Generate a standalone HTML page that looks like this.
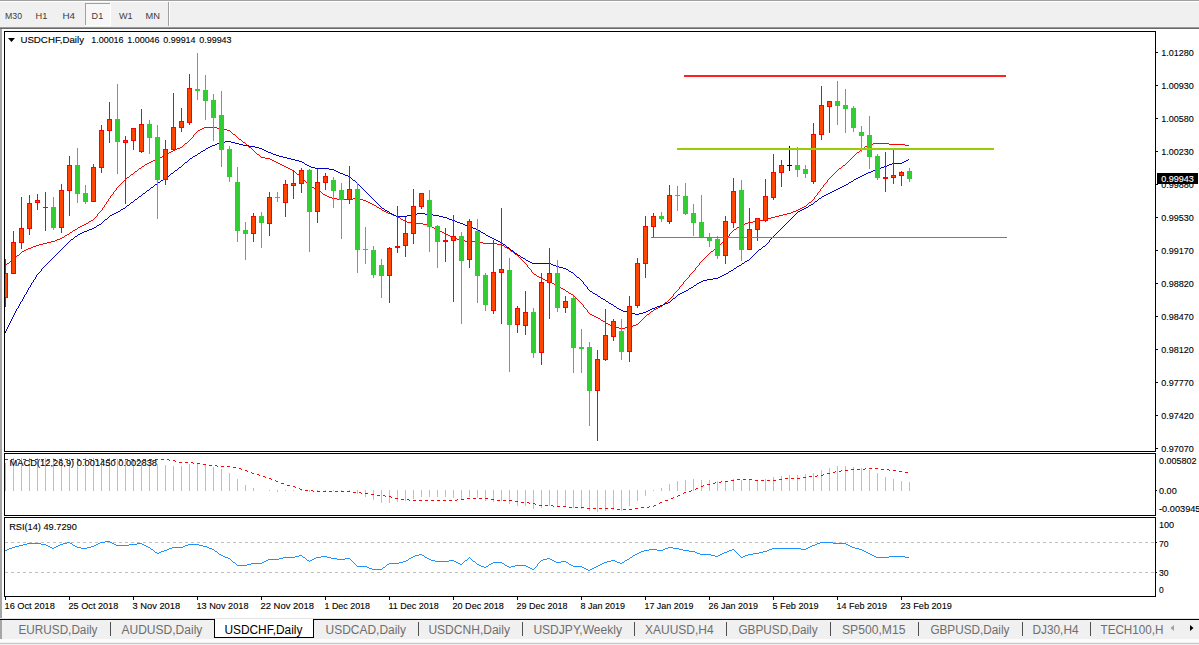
<!DOCTYPE html>
<html><head><meta charset="utf-8"><title>USDCHF,Daily</title>
<style>
html,body{margin:0;padding:0;background:#fff;overflow:hidden}
svg{display:block;position:absolute;left:0;top:0;font-family:"Liberation Sans",sans-serif}
text{white-space:pre}
</style></head><body>
<svg width="1199" height="645" viewBox="0 0 1199 645">
<rect x="0" y="0" width="1199" height="645" fill="#ffffff"/>
<rect x="0" y="0" width="1199" height="27" fill="#f0f0f0"/>
<rect x="0" y="0" width="1199" height="1" fill="#a0a0a0"/>
<rect x="0" y="1" width="1199" height="1" fill="#ffffff"/>
<rect x="0" y="27" width="1199" height="1" fill="#989898"/>
<rect x="0" y="28" width="1199" height="1" fill="#696969"/>
<rect x="85" y="3" width="26" height="23" fill="#ffffff"/>
<rect x="85" y="3" width="25" height="22" fill="#a0a0a0"/>
<rect x="86" y="4" width="24" height="21" fill="#f7f7f7"/>
<rect x="168" y="2" width="1" height="24" fill="#a0a0a0"/>
<rect x="169" y="2" width="1" height="24" fill="#ffffff"/>
<text x="5" y="18.8" font-size="9.6" fill="#3c3c3c" textLength="17" lengthAdjust="spacingAndGlyphs">M30</text>
<text x="35.6" y="18.8" font-size="9.6" fill="#3c3c3c" textLength="11.8" lengthAdjust="spacingAndGlyphs">H1</text>
<text x="62.4" y="18.8" font-size="9.6" fill="#3c3c3c" textLength="12.6" lengthAdjust="spacingAndGlyphs">H4</text>
<text x="91.6" y="18.8" font-size="9.6" fill="#3c3c3c" textLength="11.6" lengthAdjust="spacingAndGlyphs">D1</text>
<text x="119" y="18.8" font-size="9.6" fill="#3c3c3c" textLength="13.6" lengthAdjust="spacingAndGlyphs">W1</text>
<text x="145.6" y="18.8" font-size="9.6" fill="#3c3c3c" textLength="14.4" lengthAdjust="spacingAndGlyphs">MN</text>
<rect x="0" y="29" width="2" height="589" fill="#a6a6a6"/>
<rect x="4" y="31" width="1152" height="1" fill="#000000"/>
<rect x="4" y="451" width="1152" height="1" fill="#000000"/>
<rect x="4" y="31" width="1" height="421" fill="#000000"/>
<rect x="1155" y="31" width="1" height="421" fill="#000000"/>
<rect x="4" y="453" width="1152" height="1" fill="#000000"/>
<rect x="4" y="515" width="1152" height="1" fill="#000000"/>
<rect x="4" y="453" width="1" height="63" fill="#000000"/>
<rect x="1155" y="453" width="1" height="63" fill="#000000"/>
<rect x="4" y="517" width="1152" height="1" fill="#000000"/>
<rect x="4" y="596" width="1152" height="1" fill="#000000"/>
<rect x="4" y="517" width="1" height="80" fill="#000000"/>
<rect x="1155" y="517" width="1" height="80" fill="#000000"/>
<path d="M377 207h2v1h-2zM802 207h2v1h-2zM57 239h3v1h-3zM457 239h3v1h-3zM804 206h2v1h-2zM239 139h2v1h-2zM396 216h2v1h-2zM775 216h4v1h-4zM169 152h2v1h-2zM857 152h2v1h-2zM204 127h13v1h-13zM316 189h2v1h-2zM869 144h4v1h-4zM889 144h16v1h-16zM596 317h2v1h-2zM372 204h2v1h-2zM75 229h2v1h-2zM436 229h2v1h-2zM734 229h2v1h-2zM388 213h3v1h-3zM787 213h4v1h-4zM158 158h2v1h-2zM265 158h5v1h-5zM51 241h4v1h-4zM465 241h14v1h-14zM202 128h2v1h-2zM217 128h6v1h-6zM594 316h2v1h-2zM131 174h2v1h-2zM297 174h2v1h-2zM89 221h2v1h-2zM405 221h2v1h-2zM753 221h6v1h-6zM590 314h2v1h-2zM647 314h2v1h-2zM865 146h2v1h-2zM185 143h2v1h-2zM873 143h16v1h-16zM558 286h2v1h-2zM374 205h2v1h-2zM407 222h4v1h-4zM748 222h5v1h-5zM290 169h2v1h-2zM160 157h2v1h-2zM261 157h4v1h-4zM598 318h2v1h-2zM65 235h2v1h-2zM448 235h2v1h-2zM39 244h4v1h-4zM497 244h5v1h-5zM80 226h2v1h-2zM430 226h2v1h-2zM739 226h2v1h-2zM135 171h2v1h-2zM82 225h2v1h-2zM427 225h3v1h-3zM741 225h2v1h-2zM561 288h2v1h-2zM368 202h2v1h-2zM809 202h2v1h-2zM612 326h3v1h-3zM631 326h2v1h-2zM554 284h2v1h-2zM86 223h2v1h-2zM411 223h12v1h-12zM745 223h3v1h-3zM162 156h2v1h-2zM180 147h2v1h-2zM249 147h2v1h-2zM370 203h2v1h-2zM337 199h16v1h-16zM359 199h4v1h-4zM651 311h2v1h-2zM332 198h5v1h-5zM353 198h6v1h-6zM798 209h2v1h-2zM62 237h2v1h-2zM452 237h3v1h-3zM539 277h2v1h-2zM444 233h2v1h-2zM615 327h4v1h-4zM625 327h6v1h-6zM556 285h2v1h-2zM47 242h4v1h-4zM479 242h4v1h-4zM200 129h2v1h-2zM223 129h4v1h-4zM363 200h3v1h-3zM43 243h4v1h-4zM483 243h14v1h-14zM26 249h2v1h-2zM548 281h2v1h-2zM366 201h2v1h-2zM166 154h2v1h-2zM257 154h2v1h-2zM7 263h2v1h-2zM384 211h2v1h-2zM793 211h3v1h-3zM550 282h2v1h-2zM60 238h2v1h-2zM455 238h2v1h-2zM314 188h2v1h-2zM541 278h2v1h-2zM601 320h2v1h-2zM660 306h2v1h-2zM11 260h2v1h-2zM543 279h2v1h-2zM440 231h2v1h-2zM78 227h2v1h-2zM432 227h2v1h-2zM737 227h2v1h-2zM552 283h2v1h-2zM55 240h2v1h-2zM460 240h5v1h-5zM142 166h2v1h-2zM284 166h2v1h-2zM36 245h3v1h-3zM502 245h2v1h-2zM329 197h3v1h-3zM177 148h3v1h-3zM862 148h2v1h-2zM434 228h2v1h-2zM84 224h2v1h-2zM423 224h4v1h-4zM743 224h2v1h-2zM545 280h3v1h-3zM537 276h2v1h-2zM67 234h2v1h-2zM446 234h2v1h-2zM391 214h2v1h-2zM783 214h4v1h-4zM147 163h2v1h-2zM278 163h2v1h-2zM323 194h2v1h-2zM619 328h6v1h-6zM286 167h2v1h-2zM33 246h3v1h-3zM534 274h2v1h-2zM31 247h2v1h-2zM505 247h2v1h-2zM153 160h3v1h-3zM272 160h2v1h-2zM22 251h2v1h-2zM511 251h2v1h-2zM711 251h2v1h-2zM327 196h2v1h-2zM569 293h2v1h-2zM233 134h2v1h-2zM28 248h3v1h-3zM507 248h2v1h-2zM715 248h2v1h-2zM610 325h2v1h-2zM633 325h3v1h-3zM173 150h2v1h-2zM198 130h2v1h-2zM227 130h3v1h-3zM312 187h2v1h-2zM164 155h2v1h-2zM398 217h2v1h-2zM771 217h4v1h-4zM91 220h2v1h-2zM403 220h2v1h-2zM759 220h4v1h-4zM149 162h2v1h-2zM276 162h2v1h-2zM127 177h2v1h-2zM867 145h2v1h-2zM905 145h4v1h-4zM319 191h2v1h-2zM571 294h2v1h-2zM282 165h2v1h-2zM843 165h2v1h-2zM151 161h2v1h-2zM274 161h2v1h-2zM592 315h2v1h-2zM665 302h2v1h-2zM310 186h2v1h-2zM658 307h2v1h-2zM73 230h2v1h-2zM438 230h2v1h-2zM401 219h2v1h-2zM763 219h4v1h-4zM243 142h2v1h-2zM608 324h2v1h-2zM636 324h2v1h-2zM515 254h2v1h-2zM156 159h2v1h-2zM270 159h2v1h-2zM70 232h2v1h-2zM442 232h2v1h-2zM450 236h2v1h-2zM603 321h2v1h-2zM292 170h2v1h-2zM382 210h2v1h-2zM796 210h2v1h-2zM767 218h4v1h-4zM654 309h2v1h-2zM393 215h3v1h-3zM779 215h4v1h-4zM563 289h2v1h-2zM175 149h2v1h-2zM386 212h2v1h-2zM791 212h2v1h-2zM379 208h2v1h-2zM800 208h2v1h-2zM566 291h2v1h-2zM325 195h2v1h-2zM139 168h2v1h-2zM288 168h2v1h-2zM839 168h2v1h-2zM656 308h2v1h-2zM17 255h2v1h-2zM171 151h2v1h-2zM606 323h2v1h-2zM24 250h2v1h-2zM145 164h2v1h-2zM280 164h2v1h-2zM103 207h1v1h-1zM725 239h1v1h-1zM104 205h1v2h-1zM376 206h1v1h-1zM190 139h1v1h-1zM96 216h1v1h-1zM255 152h1v1h-1zM116 188h1v2h-1zM820 189h1v2h-1zM579 301h1v1h-1zM667 301h1v1h-1zM21 252h1v1h-1zM513 252h1v1h-1zM710 252h1v1h-1zM184 144h1v1h-1zM246 144h1v1h-1zM644 317h1v1h-1zM105 204h1v1h-1zM807 204h1v1h-1zM98 213h1v1h-1zM851 158h1v1h-1zM723 241h1v1h-1zM645 316h1v1h-1zM833 174h1v1h-1zM13 259h1v1h-1zM521 259h1v1h-1zM703 259h1v1h-1zM182 146h1v1h-1zM248 146h1v1h-1zM245 143h1v1h-1zM130 175h1v1h-1zM299 175h1v1h-1zM832 175h1v1h-1zM680 286h1v1h-1zM806 205h1v1h-1zM88 222h1v1h-1zM138 169h1v1h-1zM838 169h1v1h-1zM852 157h1v1h-1zM643 318h1v1h-1zM530 269h1v1h-1zM695 268h1v2h-1zM729 234h1v2h-1zM720 244h1v1h-1zM294 171h1v1h-1zM836 171h1v1h-1zM679 287h1v2h-1zM106 202h1v2h-1zM682 284h1v1h-1zM122 182h1v1h-1zM306 182h1v1h-1zM826 182h1v1h-1zM260 156h1v1h-1zM853 156h1v1h-1zM864 147h1v1h-1zM808 203h1v1h-1zM108 199h1v2h-1zM813 199h1v1h-1zM587 310h1v2h-1zM109 198h1v1h-1zM814 197h1v2h-1zM102 208h1v2h-1zM381 209h1v1h-1zM16 256h1v1h-1zM518 256h1v1h-1zM706 256h1v1h-1zM727 237h1v1h-1zM688 277h1v1h-1zM119 185h1v1h-1zM309 185h1v1h-1zM823 185h1v2h-1zM69 233h1v1h-1zM730 233h1v1h-1zM197 131h1v1h-1zM230 131h1v1h-1zM681 285h1v1h-1zM722 242h1v1h-1zM812 200h1v1h-1zM721 243h1v1h-1zM509 249h1v1h-1zM714 249h1v1h-1zM684 281h1v1h-1zM528 267h1v1h-1zM696 267h1v1h-1zM107 201h1v1h-1zM811 201h1v1h-1zM855 154h1v1h-1zM525 263h1v1h-1zM699 263h1v2h-1zM100 211h1v1h-1zM683 282h1v2h-1zM726 238h1v1h-1zM821 188h1v1h-1zM687 278h1v1h-1zM641 320h1v1h-1zM583 305h1v2h-1zM522 260h1v1h-1zM702 260h1v1h-1zM686 279h1v1h-1zM193 135h1v2h-1zM235 135h1v1h-1zM72 231h1v1h-1zM732 231h1v1h-1zM724 240h1v1h-1zM842 166h1v1h-1zM719 245h1v1h-1zM110 196h1v2h-1zM251 148h1v1h-1zM77 228h1v1h-1zM736 228h1v1h-1zM685 280h1v1h-1zM689 275h1v2h-1zM5 265h1v1h-1zM527 265h1v2h-1zM698 265h1v1h-1zM97 214h1v2h-1zM846 163h1v1h-1zM189 140h1v1h-1zM241 140h1v1h-1zM123 181h1v1h-1zM305 181h1v1h-1zM827 180h1v2h-1zM112 194h1v1h-1zM817 193h1v2h-1zM14 258h1v1h-1zM520 258h1v1h-1zM704 258h1v1h-1zM697 266h1v1h-1zM529 268h1v1h-1zM141 167h1v1h-1zM841 167h1v1h-1zM504 246h1v1h-1zM718 246h1v1h-1zM575 297h1v1h-1zM671 297h1v1h-1zM168 153h1v1h-1zM256 153h1v1h-1zM856 153h1v1h-1zM690 274h1v1h-1zM717 247h1v1h-1zM849 160h1v1h-1zM576 298h1v1h-1zM670 298h1v1h-1zM815 196h1v1h-1zM674 293h1v1h-1zM194 134h1v1h-1zM15 257h1v1h-1zM519 257h1v1h-1zM705 257h1v1h-1zM192 137h1v1h-1zM237 137h1v1h-1zM582 304h1v1h-1zM663 304h1v1h-1zM10 261h1v1h-1zM523 261h1v1h-1zM701 261h1v1h-1zM662 305h1v1h-1zM253 150h1v1h-1zM860 150h1v1h-1zM605 322h1v1h-1zM639 322h1v1h-1zM117 187h1v1h-1zM822 187h1v1h-1zM259 155h1v1h-1zM854 155h1v1h-1zM95 217h1v1h-1zM113 192h1v2h-1zM322 193h1v1h-1zM196 132h1v1h-1zM231 132h1v1h-1zM847 162h1v1h-1zM301 177h1v1h-1zM830 177h1v1h-1zM183 145h1v1h-1zM247 145h1v1h-1zM134 172h1v1h-1zM295 172h1v1h-1zM835 172h1v1h-1zM114 191h1v1h-1zM819 191h1v1h-1zM121 183h1v1h-1zM307 183h1v1h-1zM825 183h1v1h-1zM125 179h1v1h-1zM303 179h1v1h-1zM828 179h1v1h-1zM9 262h1v1h-1zM524 262h1v1h-1zM700 262h1v1h-1zM673 294h1v2h-1zM144 165h1v1h-1zM848 161h1v1h-1zM646 315h1v1h-1zM580 302h1v1h-1zM118 186h1v1h-1zM584 307h1v1h-1zM733 230h1v1h-1zM6 264h1v1h-1zM526 264h1v1h-1zM93 219h1v1h-1zM187 142h1v1h-1zM19 254h1v1h-1zM708 254h1v1h-1zM850 159h1v1h-1zM731 232h1v1h-1zM64 236h1v1h-1zM728 236h1v1h-1zM640 321h1v1h-1zM137 170h1v1h-1zM837 170h1v1h-1zM101 210h1v1h-1zM94 218h1v1h-1zM400 218h1v1h-1zM129 176h1v1h-1zM300 176h1v1h-1zM831 176h1v1h-1zM586 309h1v1h-1zM588 312h1v1h-1zM650 312h1v1h-1zM573 295h1v1h-1zM678 289h1v1h-1zM252 149h1v1h-1zM861 149h1v1h-1zM99 212h1v1h-1zM20 253h1v1h-1zM514 253h1v1h-1zM709 253h1v1h-1zM120 184h1v1h-1zM308 184h1v1h-1zM824 184h1v1h-1zM577 299h1v1h-1zM669 299h1v1h-1zM321 192h1v1h-1zM818 192h1v1h-1zM676 291h1v1h-1zM578 300h1v1h-1zM668 300h1v1h-1zM191 138h1v1h-1zM238 138h1v1h-1zM236 136h1v1h-1zM111 195h1v1h-1zM816 195h1v1h-1zM585 308h1v1h-1zM532 272h1v1h-1zM692 272h1v1h-1zM517 255h1v1h-1zM707 255h1v1h-1zM600 319h1v1h-1zM642 319h1v1h-1zM254 151h1v1h-1zM859 151h1v1h-1zM133 173h1v1h-1zM296 173h1v1h-1zM834 173h1v1h-1zM638 323h1v1h-1zM536 275h1v1h-1zM510 250h1v1h-1zM713 250h1v1h-1zM560 287h1v1h-1zM195 133h1v1h-1zM232 133h1v1h-1zM581 303h1v1h-1zM664 303h1v1h-1zM115 190h1v1h-1zM318 190h1v1h-1zM845 164h1v1h-1zM531 270h1v2h-1zM694 270h1v1h-1zM124 180h1v1h-1zM304 180h1v1h-1zM126 178h1v1h-1zM302 178h1v1h-1zM829 178h1v1h-1zM533 273h1v1h-1zM691 273h1v1h-1zM653 310h1v1h-1zM188 141h1v1h-1zM242 141h1v1h-1zM693 271h1v1h-1zM568 292h1v1h-1zM675 292h1v1h-1zM589 313h1v1h-1zM649 313h1v1h-1zM574 296h1v1h-1zM672 296h1v1h-1zM565 290h1v1h-1zM677 290h1v1h-1z" fill="#ff0000" shape-rendering="crispEdges"/>
<path d="M856 178h2v1h-2zM528 261h2v1h-2zM745 261h2v1h-2zM703 280h4v1h-4zM396 216h11v1h-11zM439 216h4v1h-4zM892 163h10v1h-10zM844 185h2v1h-2zM273 154h3v1h-3zM123 208h2v1h-2zM382 208h2v1h-2zM804 208h2v1h-2zM203 150h2v1h-2zM264 150h2v1h-2zM307 165h2v1h-2zM887 165h2v1h-2zM460 223h3v1h-3zM114 213h2v1h-2zM390 213h2v1h-2zM417 213h8v1h-8zM668 302h2v1h-2zM201 151h2v1h-2zM266 151h2v1h-2zM208 147h2v1h-2zM255 147h4v1h-4zM457 222h3v1h-3zM635 314h4v1h-4zM225 141h6v1h-6zM329 169h5v1h-5zM876 169h3v1h-3zM167 176h2v1h-2zM348 176h2v1h-2zM860 176h2v1h-2zM112 214h2v1h-2zM392 214h2v1h-2zM411 214h6v1h-6zM425 214h8v1h-8zM87 230h2v1h-2zM478 230h2v1h-2zM309 166h2v1h-2zM884 166h3v1h-3zM315 168h14v1h-14zM879 168h2v1h-2zM71 239h2v1h-2zM494 239h2v1h-2zM566 269h2v1h-2zM486 235h2v1h-2zM724 274h2v1h-2zM185 162h2v1h-2zM302 162h2v1h-2zM902 162h2v1h-2zM500 242h2v1h-2zM147 190h2v1h-2zM834 190h2v1h-2zM598 296h2v1h-2zM336 171h2v1h-2zM871 171h2v1h-2zM617 308h2v1h-2zM652 308h3v1h-3zM206 148h2v1h-2zM259 148h3v1h-3zM179 167h2v1h-2zM311 167h4v1h-4zM881 167h3v1h-3zM97 225h2v1h-2zM465 225h3v1h-3zM556 266h3v1h-3zM737 266h2v1h-2zM569 271h2v1h-2zM729 271h2v1h-2zM291 159h4v1h-4zM143 193h2v1h-2zM828 193h2v1h-2zM627 312h4v1h-4zM643 312h3v1h-3zM215 144h2v1h-2zM239 144h4v1h-4zM305 164h2v1h-2zM889 164h3v1h-3zM490 237h2v1h-2zM80 233h2v1h-2zM483 233h2v1h-2zM78 234h2v1h-2zM118 211h2v1h-2zM387 211h2v1h-2zM798 211h2v1h-2zM595 294h2v1h-2zM678 294h2v1h-2zM614 306h2v1h-2zM657 306h3v1h-3zM532 263h19v1h-19zM742 263h2v1h-2zM299 161h3v1h-3zM904 161h2v1h-2zM110 215h2v1h-2zM394 215h2v1h-2zM407 215h4v1h-4zM433 215h6v1h-6zM161 180h2v1h-2zM353 180h2v1h-2zM198 153h2v1h-2zM271 153h2v1h-2zM468 226h3v1h-3zM295 160h4v1h-4zM906 160h2v1h-2zM713 278h5v1h-5zM220 142h5v1h-5zM231 142h4v1h-4zM551 264h2v1h-2zM94 227h2v1h-2zM471 227h2v1h-2zM611 304h2v1h-2zM663 304h2v1h-2zM830 192h2v1h-2zM763 246h2v1h-2zM212 145h3v1h-3zM243 145h6v1h-6zM691 287h2v1h-2zM116 212h2v1h-2zM195 155h2v1h-2zM276 155h3v1h-3zM99 224h2v1h-2zM463 224h2v1h-2zM731 270h2v1h-2zM720 276h2v1h-2zM606 301h2v1h-2zM127 205h2v1h-2zM809 205h2v1h-2zM701 281h2v1h-2zM806 207h2v1h-2zM689 288h2v1h-2zM210 146h2v1h-2zM249 146h6v1h-6zM193 156h2v1h-2zM279 156h4v1h-4zM75 236h2v1h-2zM488 236h2v1h-2zM131 202h2v1h-2zM121 209h2v1h-2zM802 209h2v1h-2zM447 218h2v1h-2zM601 298h2v1h-2zM673 298h2v1h-2zM759 249h2v1h-2zM826 194h2v1h-2zM694 285h2v1h-2zM135 199h2v1h-2zM697 283h2v1h-2zM621 310h2v1h-2zM648 310h2v1h-2zM686 290h2v1h-2zM836 189h2v1h-2zM707 279h6v1h-6zM511 250h2v1h-2zM553 265h3v1h-3zM739 265h2v1h-2zM158 182h2v1h-2zM849 182h2v1h-2zM92 228h2v1h-2zM473 228h3v1h-3zM151 187h2v1h-2zM840 187h2v1h-2zM842 186h2v1h-2zM521 257h2v1h-2zM283 157h4v1h-4zM590 291h2v1h-2zM684 291h2v1h-2zM609 303h2v1h-2zM665 303h3v1h-3zM84 231h3v1h-3zM631 313h4v1h-4zM639 313h4v1h-4zM175 170h2v1h-2zM334 170h2v1h-2zM873 170h3v1h-3zM682 292h2v1h-2zM526 260h2v1h-2zM747 260h2v1h-2zM530 262h2v1h-2zM722 275h2v1h-2zM190 158h2v1h-2zM287 158h4v1h-4zM577 277h2v1h-2zM718 277h2v1h-2zM507 247h2v1h-2zM89 229h3v1h-3zM476 229h2v1h-2zM559 267h4v1h-4zM660 305h3v1h-3zM623 311h4v1h-4zM646 311h2v1h-2zM699 282h2v1h-2zM455 221h2v1h-2zM655 307h2v1h-2zM523 258h2v1h-2zM163 179h2v1h-2zM854 179h2v1h-2zM155 184h2v1h-2zM846 184h2v1h-2zM619 309h2v1h-2zM650 309h2v1h-2zM217 143h3v1h-3zM235 143h4v1h-4zM443 217h4v1h-4zM338 172h2v1h-2zM868 172h3v1h-3zM824 195h2v1h-2zM452 220h3v1h-3zM819 198h2v1h-2zM496 240h2v1h-2zM82 232h2v1h-2zM481 232h2v1h-2zM571 272h2v1h-2zM563 268h3v1h-3zM734 268h2v1h-2zM858 177h2v1h-2zM851 181h2v1h-2zM503 244h2v1h-2zM139 196h2v1h-2zM822 196h2v1h-2zM518 255h2v1h-2zM498 241h2v1h-2zM345 175h3v1h-3zM862 175h2v1h-2zM492 238h2v1h-2zM603 299h2v1h-2zM385 210h2v1h-2zM800 210h2v1h-2zM171 173h2v1h-2zM340 173h3v1h-3zM866 173h2v1h-2zM515 253h2v1h-2zM262 149h2v1h-2zM838 188h2v1h-2zM105 219h2v1h-2zM449 219h3v1h-3zM811 204h2v1h-2zM268 152h3v1h-3zM815 201h2v1h-2zM593 293h2v1h-2zM680 293h2v1h-2zM726 273h2v1h-2zM832 191h2v1h-2zM343 174h2v1h-2zM864 174h2v1h-2zM165 178h1v1h-1zM351 178h1v1h-1zM49 261h1v1h-1zM33 280h1v2h-1zM581 280h1v1h-1zM109 216h1v1h-1zM793 216h1v1h-1zM184 163h1v1h-1zM304 163h1v1h-1zM154 185h1v1h-1zM359 185h1v1h-1zM197 154h1v1h-1zM182 165h1v1h-1zM101 223h1v1h-1zM786 223h1v1h-1zM796 213h1v1h-1zM20 302h1v2h-1zM608 302h1v1h-1zM102 222h1v1h-1zM787 222h1v1h-1zM14 313h1v2h-1zM177 169h1v1h-1zM795 214h1v1h-1zM779 230h1v1h-1zM181 166h1v1h-1zM178 168h1v1h-1zM770 239h1v1h-1zM41 269h1v2h-1zM733 269h1v1h-1zM77 235h1v1h-1zM774 235h1v1h-1zM37 274h1v1h-1zM574 274h1v1h-1zM68 242h1v1h-1zM768 242h1v1h-1zM364 190h1v1h-1zM24 295h1v2h-1zM676 296h1v1h-1zM174 171h1v1h-1zM56 254h1v1h-1zM517 254h1v1h-1zM754 254h1v1h-1zM17 308h1v1h-1zM784 225h1v1h-1zM44 266h1v1h-1zM40 271h1v1h-1zM189 159h1v1h-1zM908 159h1v1h-1zM58 252h1v1h-1zM514 252h1v1h-1zM756 252h1v1h-1zM367 193h1v1h-1zM15 311h1v2h-1zM9 323h1v2h-1zM126 206h1v1h-1zM380 206h1v1h-1zM808 206h1v1h-1zM183 164h1v1h-1zM74 237h1v1h-1zM772 237h1v1h-1zM776 233h1v1h-1zM485 234h1v1h-1zM775 234h1v1h-1zM25 294h1v1h-1zM18 306h1v2h-1zM47 263h1v1h-1zM187 161h1v1h-1zM794 215h1v1h-1zM853 180h1v1h-1zM96 226h1v1h-1zM783 226h1v1h-1zM188 160h1v1h-1zM35 277h1v2h-1zM579 278h1v1h-1zM134 200h1v1h-1zM374 200h1v1h-1zM817 200h1v1h-1zM13 315h1v2h-1zM46 264h1v1h-1zM741 264h1v1h-1zM31 283h1v2h-1zM584 284h1v1h-1zM696 284h1v1h-1zM782 227h1v1h-1zM19 304h1v2h-1zM59 251h1v1h-1zM513 251h1v1h-1zM757 251h1v1h-1zM145 192h1v1h-1zM366 192h1v1h-1zM64 246h1v1h-1zM506 246h1v1h-1zM29 287h1v1h-1zM587 287h1v2h-1zM389 212h1v1h-1zM797 212h1v1h-1zM785 224h1v1h-1zM568 270h1v1h-1zM36 275h1v2h-1zM576 276h1v1h-1zM21 301h1v1h-1zM670 301h1v1h-1zM67 243h1v1h-1zM502 243h1v1h-1zM767 243h1v1h-1zM379 205h1v1h-1zM582 281h1v1h-1zM125 207h1v1h-1zM381 207h1v1h-1zM28 288h1v2h-1zM773 236h1v1h-1zM376 202h1v1h-1zM814 202h1v1h-1zM65 245h1v1h-1zM505 245h1v1h-1zM765 245h1v1h-1zM384 209h1v1h-1zM107 218h1v1h-1zM791 218h1v1h-1zM23 297h1v2h-1zM61 249h1v1h-1zM510 249h1v1h-1zM142 194h1v1h-1zM368 194h1v1h-1zM30 285h1v2h-1zM585 285h1v1h-1zM373 199h1v1h-1zM818 199h1v1h-1zM583 282h1v2h-1zM16 309h1v2h-1zM27 290h1v2h-1zM589 290h1v1h-1zM149 189h1v1h-1zM363 189h1v1h-1zM34 279h1v1h-1zM580 279h1v1h-1zM60 250h1v1h-1zM758 250h1v1h-1zM45 265h1v1h-1zM356 182h1v1h-1zM130 203h1v1h-1zM377 203h1v1h-1zM813 203h1v1h-1zM781 228h1v1h-1zM361 187h1v1h-1zM153 186h1v1h-1zM360 186h1v1h-1zM53 257h1v1h-1zM751 257h1v1h-1zM192 157h1v1h-1zM480 231h1v1h-1zM778 231h1v1h-1zM12 317h1v2h-1zM26 292h1v2h-1zM592 292h1v1h-1zM50 260h1v1h-1zM48 262h1v1h-1zM744 262h1v1h-1zM575 275h1v1h-1zM63 247h1v1h-1zM762 247h1v1h-1zM780 229h1v1h-1zM43 267h1v1h-1zM736 267h1v1h-1zM588 289h1v1h-1zM688 289h1v1h-1zM613 305h1v1h-1zM157 183h1v1h-1zM357 183h1v1h-1zM848 183h1v1h-1zM32 282h1v1h-1zM103 221h1v1h-1zM788 221h1v1h-1zM616 307h1v1h-1zM138 197h1v1h-1zM371 197h1v1h-1zM821 197h1v1h-1zM52 258h1v1h-1zM750 258h1v1h-1zM8 325h1v2h-1zM352 179h1v1h-1zM358 184h1v1h-1zM108 217h1v1h-1zM792 217h1v1h-1zM173 172h1v1h-1zM7 327h1v2h-1zM141 195h1v1h-1zM369 195h1v1h-1zM104 220h1v1h-1zM789 220h1v1h-1zM137 198h1v1h-1zM372 198h1v1h-1zM70 240h1v1h-1zM769 240h1v2h-1zM777 232h1v1h-1zM39 272h1v1h-1zM728 272h1v1h-1zM42 268h1v1h-1zM166 177h1v1h-1zM350 177h1v1h-1zM160 181h1v1h-1zM355 181h1v1h-1zM66 244h1v1h-1zM766 244h1v1h-1zM370 196h1v1h-1zM11 319h1v2h-1zM55 255h1v1h-1zM753 255h1v1h-1zM69 241h1v1h-1zM597 295h1v1h-1zM677 295h1v1h-1zM169 175h1v1h-1zM73 238h1v1h-1zM771 238h1v1h-1zM22 299h1v2h-1zM672 299h1v1h-1zM120 210h1v1h-1zM605 300h1v1h-1zM671 300h1v1h-1zM586 286h1v1h-1zM693 286h1v1h-1zM57 253h1v1h-1zM755 253h1v1h-1zM600 297h1v1h-1zM675 297h1v1h-1zM205 149h1v1h-1zM150 188h1v1h-1zM362 188h1v1h-1zM790 219h1v1h-1zM129 204h1v1h-1zM378 204h1v1h-1zM200 152h1v1h-1zM133 201h1v1h-1zM375 201h1v1h-1zM6 329h1v2h-1zM38 273h1v1h-1zM573 273h1v1h-1zM62 248h1v1h-1zM509 248h1v1h-1zM761 248h1v1h-1zM10 321h1v2h-1zM5 331h1v2h-1zM146 191h1v1h-1zM365 191h1v1h-1zM170 174h1v1h-1zM54 256h1v1h-1zM520 256h1v1h-1zM752 256h1v1h-1zM51 259h1v1h-1zM525 259h1v1h-1zM749 259h1v1h-1z" fill="#0000cd" shape-rendering="crispEdges"/>
<g shape-rendering="crispEdges">
<rect x="5" y="259" width="1" height="48" fill="#ff0000"/>
<rect x="5" y="273" width="3" height="25" fill="#ff0000"/>
<rect x="5" y="274" width="2" height="23" fill="#ff4500"/>
<rect x="13" y="231" width="1" height="43" fill="#ff0000"/>
<rect x="11" y="242" width="5" height="32" fill="#ff0000"/>
<rect x="12" y="243" width="3" height="30" fill="#ff4500"/>
<rect x="21" y="197" width="1" height="52" fill="#ff0000"/>
<rect x="19" y="228" width="5" height="15" fill="#ff0000"/>
<rect x="20" y="229" width="3" height="13" fill="#ff4500"/>
<rect x="29" y="195" width="1" height="40" fill="#ff0000"/>
<rect x="27" y="203" width="5" height="26" fill="#ff0000"/>
<rect x="28" y="204" width="3" height="24" fill="#ff4500"/>
<rect x="37" y="194" width="1" height="16" fill="#ff0000"/>
<rect x="35" y="200" width="5" height="3" fill="#ff0000"/>
<rect x="36" y="201" width="3" height="1" fill="#ff4500"/>
<rect x="45" y="192" width="1" height="39" fill="#ff0000"/>
<rect x="43" y="207" width="5" height="1" fill="#ff0000"/>
<rect x="53" y="197" width="1" height="33" fill="#32cd32"/>
<rect x="51" y="207" width="5" height="21" fill="#32cd32"/>
<rect x="61" y="184" width="1" height="49" fill="#ff0000"/>
<rect x="59" y="190" width="5" height="38" fill="#ff0000"/>
<rect x="60" y="191" width="3" height="36" fill="#ff4500"/>
<rect x="69" y="156" width="1" height="60" fill="#ff0000"/>
<rect x="67" y="165" width="5" height="26" fill="#ff0000"/>
<rect x="68" y="166" width="3" height="24" fill="#ff4500"/>
<rect x="77" y="148" width="1" height="55" fill="#32cd32"/>
<rect x="75" y="165" width="5" height="29" fill="#32cd32"/>
<rect x="85" y="185" width="1" height="19" fill="#32cd32"/>
<rect x="83" y="193" width="5" height="9" fill="#32cd32"/>
<rect x="93" y="164" width="1" height="38" fill="#ff0000"/>
<rect x="91" y="167" width="5" height="35" fill="#ff0000"/>
<rect x="92" y="168" width="3" height="33" fill="#ff4500"/>
<rect x="101" y="125" width="1" height="48" fill="#ff0000"/>
<rect x="99" y="130" width="5" height="38" fill="#ff0000"/>
<rect x="100" y="131" width="3" height="36" fill="#ff4500"/>
<rect x="109" y="102" width="1" height="41" fill="#ff0000"/>
<rect x="107" y="119" width="5" height="12" fill="#ff0000"/>
<rect x="108" y="120" width="3" height="10" fill="#ff4500"/>
<rect x="117" y="84" width="1" height="90" fill="#32cd32"/>
<rect x="115" y="119" width="5" height="23" fill="#32cd32"/>
<rect x="125" y="136" width="1" height="68" fill="#ff0000"/>
<rect x="123" y="140" width="5" height="3" fill="#ff0000"/>
<rect x="124" y="141" width="3" height="1" fill="#ff4500"/>
<rect x="133" y="128" width="1" height="22" fill="#ff0000"/>
<rect x="131" y="128" width="5" height="13" fill="#ff0000"/>
<rect x="132" y="129" width="3" height="11" fill="#ff4500"/>
<rect x="141" y="109" width="1" height="44" fill="#ff0000"/>
<rect x="139" y="124" width="5" height="28" fill="#ff0000"/>
<rect x="140" y="125" width="3" height="26" fill="#ff4500"/>
<rect x="149" y="120" width="1" height="34" fill="#32cd32"/>
<rect x="147" y="124" width="5" height="14" fill="#32cd32"/>
<rect x="157" y="125" width="1" height="94" fill="#32cd32"/>
<rect x="155" y="137" width="5" height="43" fill="#32cd32"/>
<rect x="165" y="140" width="1" height="45" fill="#ff0000"/>
<rect x="163" y="149" width="5" height="31" fill="#ff0000"/>
<rect x="164" y="150" width="3" height="29" fill="#ff4500"/>
<rect x="173" y="93" width="1" height="58" fill="#ff0000"/>
<rect x="171" y="127" width="5" height="23" fill="#ff0000"/>
<rect x="172" y="128" width="3" height="21" fill="#ff4500"/>
<rect x="181" y="108" width="1" height="24" fill="#ff0000"/>
<rect x="179" y="121" width="5" height="7" fill="#ff0000"/>
<rect x="180" y="122" width="3" height="5" fill="#ff4500"/>
<rect x="189" y="74" width="1" height="51" fill="#ff0000"/>
<rect x="187" y="88" width="5" height="35" fill="#ff0000"/>
<rect x="188" y="89" width="3" height="33" fill="#ff4500"/>
<rect x="197" y="53" width="1" height="47" fill="#32cd32"/>
<rect x="195" y="89" width="5" height="2" fill="#32cd32"/>
<rect x="205" y="75" width="1" height="45" fill="#32cd32"/>
<rect x="203" y="90" width="5" height="11" fill="#32cd32"/>
<rect x="213" y="94" width="1" height="47" fill="#32cd32"/>
<rect x="211" y="100" width="5" height="18" fill="#32cd32"/>
<rect x="221" y="91" width="1" height="76" fill="#32cd32"/>
<rect x="219" y="115" width="5" height="35" fill="#32cd32"/>
<rect x="229" y="146" width="1" height="36" fill="#32cd32"/>
<rect x="227" y="149" width="5" height="28" fill="#32cd32"/>
<rect x="237" y="167" width="1" height="75" fill="#32cd32"/>
<rect x="235" y="182" width="5" height="49" fill="#32cd32"/>
<rect x="245" y="222" width="1" height="38" fill="#32cd32"/>
<rect x="243" y="230" width="5" height="4" fill="#32cd32"/>
<rect x="253" y="213" width="1" height="29" fill="#ff0000"/>
<rect x="251" y="216" width="5" height="18" fill="#ff0000"/>
<rect x="252" y="217" width="3" height="16" fill="#ff4500"/>
<rect x="261" y="212" width="1" height="36" fill="#32cd32"/>
<rect x="259" y="216" width="5" height="7" fill="#32cd32"/>
<rect x="269" y="192" width="1" height="44" fill="#ff0000"/>
<rect x="267" y="197" width="5" height="27" fill="#ff0000"/>
<rect x="268" y="198" width="3" height="25" fill="#ff4500"/>
<rect x="277" y="192" width="1" height="10" fill="#32cd32"/>
<rect x="275" y="197" width="5" height="1" fill="#32cd32"/>
<rect x="285" y="180" width="1" height="37" fill="#ff0000"/>
<rect x="283" y="184" width="5" height="19" fill="#ff0000"/>
<rect x="284" y="185" width="3" height="17" fill="#ff4500"/>
<rect x="293" y="170" width="1" height="29" fill="#ff0000"/>
<rect x="291" y="183" width="5" height="3" fill="#ff0000"/>
<rect x="292" y="184" width="3" height="1" fill="#ff4500"/>
<rect x="301" y="168" width="1" height="25" fill="#ff0000"/>
<rect x="299" y="170" width="5" height="14" fill="#ff0000"/>
<rect x="300" y="171" width="3" height="12" fill="#ff4500"/>
<rect x="309" y="169" width="1" height="83" fill="#32cd32"/>
<rect x="307" y="170" width="5" height="42" fill="#32cd32"/>
<rect x="317" y="169" width="1" height="54" fill="#ff0000"/>
<rect x="315" y="182" width="5" height="30" fill="#ff0000"/>
<rect x="316" y="183" width="3" height="28" fill="#ff4500"/>
<rect x="325" y="173" width="1" height="17" fill="#ff0000"/>
<rect x="323" y="176" width="5" height="7" fill="#ff0000"/>
<rect x="324" y="177" width="3" height="5" fill="#ff4500"/>
<rect x="333" y="177" width="1" height="31" fill="#32cd32"/>
<rect x="331" y="180" width="5" height="11" fill="#32cd32"/>
<rect x="341" y="183" width="1" height="56" fill="#32cd32"/>
<rect x="339" y="190" width="5" height="10" fill="#32cd32"/>
<rect x="349" y="166" width="1" height="38" fill="#ff0000"/>
<rect x="347" y="189" width="5" height="11" fill="#ff0000"/>
<rect x="348" y="190" width="3" height="9" fill="#ff4500"/>
<rect x="357" y="183" width="1" height="90" fill="#32cd32"/>
<rect x="355" y="189" width="5" height="61" fill="#32cd32"/>
<rect x="365" y="227" width="1" height="37" fill="#32cd32"/>
<rect x="363" y="249" width="5" height="1" fill="#32cd32"/>
<rect x="373" y="246" width="1" height="32" fill="#32cd32"/>
<rect x="371" y="250" width="5" height="25" fill="#32cd32"/>
<rect x="381" y="259" width="1" height="39" fill="#32cd32"/>
<rect x="379" y="265" width="5" height="11" fill="#32cd32"/>
<rect x="389" y="247" width="1" height="56" fill="#ff0000"/>
<rect x="387" y="248" width="5" height="28" fill="#ff0000"/>
<rect x="388" y="249" width="3" height="26" fill="#ff4500"/>
<rect x="397" y="206" width="1" height="47" fill="#ff0000"/>
<rect x="395" y="246" width="5" height="2" fill="#ff0000"/>
<rect x="405" y="217" width="1" height="40" fill="#ff0000"/>
<rect x="403" y="233" width="5" height="13" fill="#ff0000"/>
<rect x="404" y="234" width="3" height="11" fill="#ff4500"/>
<rect x="413" y="189" width="1" height="55" fill="#ff0000"/>
<rect x="411" y="206" width="5" height="28" fill="#ff0000"/>
<rect x="412" y="207" width="3" height="26" fill="#ff4500"/>
<rect x="421" y="193" width="1" height="16" fill="#ff0000"/>
<rect x="419" y="193" width="5" height="14" fill="#ff0000"/>
<rect x="420" y="194" width="3" height="12" fill="#ff4500"/>
<rect x="429" y="190" width="1" height="62" fill="#32cd32"/>
<rect x="427" y="200" width="5" height="27" fill="#32cd32"/>
<rect x="437" y="225" width="1" height="43" fill="#32cd32"/>
<rect x="435" y="226" width="5" height="16" fill="#32cd32"/>
<rect x="445" y="228" width="1" height="34" fill="#ff0000"/>
<rect x="443" y="240" width="5" height="2" fill="#ff0000"/>
<rect x="453" y="215" width="1" height="87" fill="#ff0000"/>
<rect x="451" y="236" width="5" height="5" fill="#ff0000"/>
<rect x="452" y="237" width="3" height="3" fill="#ff4500"/>
<rect x="461" y="232" width="1" height="92" fill="#32cd32"/>
<rect x="459" y="236" width="5" height="25" fill="#32cd32"/>
<rect x="469" y="219" width="1" height="49" fill="#ff0000"/>
<rect x="467" y="221" width="5" height="39" fill="#ff0000"/>
<rect x="468" y="222" width="3" height="37" fill="#ff4500"/>
<rect x="477" y="219" width="1" height="84" fill="#32cd32"/>
<rect x="475" y="231" width="5" height="45" fill="#32cd32"/>
<rect x="485" y="273" width="1" height="38" fill="#32cd32"/>
<rect x="483" y="275" width="5" height="30" fill="#32cd32"/>
<rect x="493" y="240" width="1" height="74" fill="#ff0000"/>
<rect x="491" y="272" width="5" height="39" fill="#ff0000"/>
<rect x="492" y="273" width="3" height="37" fill="#ff4500"/>
<rect x="501" y="208" width="1" height="116" fill="#ff0000"/>
<rect x="499" y="269" width="5" height="4" fill="#ff0000"/>
<rect x="500" y="270" width="3" height="2" fill="#ff4500"/>
<rect x="509" y="258" width="1" height="114" fill="#32cd32"/>
<rect x="507" y="270" width="5" height="55" fill="#32cd32"/>
<rect x="517" y="306" width="1" height="27" fill="#ff0000"/>
<rect x="515" y="308" width="5" height="17" fill="#ff0000"/>
<rect x="516" y="309" width="3" height="15" fill="#ff4500"/>
<rect x="525" y="291" width="1" height="44" fill="#ff0000"/>
<rect x="523" y="312" width="5" height="14" fill="#ff0000"/>
<rect x="524" y="313" width="3" height="12" fill="#ff4500"/>
<rect x="533" y="308" width="1" height="50" fill="#32cd32"/>
<rect x="531" y="312" width="5" height="41" fill="#32cd32"/>
<rect x="541" y="273" width="1" height="92" fill="#ff0000"/>
<rect x="539" y="282" width="5" height="71" fill="#ff0000"/>
<rect x="540" y="283" width="3" height="69" fill="#ff4500"/>
<rect x="549" y="248" width="1" height="71" fill="#ff0000"/>
<rect x="547" y="273" width="5" height="10" fill="#ff0000"/>
<rect x="548" y="274" width="3" height="8" fill="#ff4500"/>
<rect x="557" y="260" width="1" height="52" fill="#32cd32"/>
<rect x="555" y="273" width="5" height="35" fill="#32cd32"/>
<rect x="565" y="296" width="1" height="17" fill="#ff0000"/>
<rect x="563" y="301" width="5" height="7" fill="#ff0000"/>
<rect x="564" y="302" width="3" height="5" fill="#ff4500"/>
<rect x="573" y="296" width="1" height="77" fill="#32cd32"/>
<rect x="571" y="298" width="5" height="50" fill="#32cd32"/>
<rect x="581" y="329" width="1" height="44" fill="#32cd32"/>
<rect x="579" y="347" width="5" height="2" fill="#32cd32"/>
<rect x="589" y="342" width="1" height="84" fill="#32cd32"/>
<rect x="587" y="347" width="5" height="44" fill="#32cd32"/>
<rect x="597" y="350" width="1" height="91" fill="#ff0000"/>
<rect x="595" y="359" width="5" height="32" fill="#ff0000"/>
<rect x="596" y="360" width="3" height="30" fill="#ff4500"/>
<rect x="605" y="309" width="1" height="52" fill="#ff0000"/>
<rect x="603" y="335" width="5" height="25" fill="#ff0000"/>
<rect x="604" y="336" width="3" height="23" fill="#ff4500"/>
<rect x="613" y="319" width="1" height="22" fill="#ff0000"/>
<rect x="611" y="321" width="5" height="16" fill="#ff0000"/>
<rect x="612" y="322" width="3" height="14" fill="#ff4500"/>
<rect x="621" y="319" width="1" height="41" fill="#32cd32"/>
<rect x="619" y="331" width="5" height="21" fill="#32cd32"/>
<rect x="629" y="296" width="1" height="66" fill="#ff0000"/>
<rect x="627" y="306" width="5" height="46" fill="#ff0000"/>
<rect x="628" y="307" width="3" height="44" fill="#ff4500"/>
<rect x="637" y="258" width="1" height="50" fill="#ff0000"/>
<rect x="635" y="263" width="5" height="43" fill="#ff0000"/>
<rect x="636" y="264" width="3" height="41" fill="#ff4500"/>
<rect x="645" y="216" width="1" height="62" fill="#ff0000"/>
<rect x="643" y="226" width="5" height="38" fill="#ff0000"/>
<rect x="644" y="227" width="3" height="36" fill="#ff4500"/>
<rect x="653" y="213" width="1" height="25" fill="#ff0000"/>
<rect x="651" y="216" width="5" height="11" fill="#ff0000"/>
<rect x="652" y="217" width="3" height="9" fill="#ff4500"/>
<rect x="661" y="212" width="1" height="10" fill="#32cd32"/>
<rect x="659" y="216" width="5" height="3" fill="#32cd32"/>
<rect x="669" y="185" width="1" height="39" fill="#ff0000"/>
<rect x="667" y="195" width="5" height="27" fill="#ff0000"/>
<rect x="668" y="196" width="3" height="25" fill="#ff4500"/>
<rect x="677" y="186" width="1" height="25" fill="#32cd32"/>
<rect x="675" y="195" width="5" height="1" fill="#32cd32"/>
<rect x="685" y="183" width="1" height="32" fill="#32cd32"/>
<rect x="683" y="196" width="5" height="18" fill="#32cd32"/>
<rect x="693" y="204" width="1" height="32" fill="#32cd32"/>
<rect x="691" y="213" width="5" height="10" fill="#32cd32"/>
<rect x="701" y="195" width="1" height="43" fill="#32cd32"/>
<rect x="699" y="222" width="5" height="16" fill="#32cd32"/>
<rect x="709" y="233" width="1" height="14" fill="#32cd32"/>
<rect x="707" y="237" width="5" height="4" fill="#32cd32"/>
<rect x="717" y="236" width="1" height="23" fill="#32cd32"/>
<rect x="715" y="239" width="5" height="17" fill="#32cd32"/>
<rect x="725" y="216" width="1" height="48" fill="#ff0000"/>
<rect x="723" y="221" width="5" height="35" fill="#ff0000"/>
<rect x="724" y="222" width="3" height="33" fill="#ff4500"/>
<rect x="733" y="178" width="1" height="50" fill="#ff0000"/>
<rect x="731" y="191" width="5" height="32" fill="#ff0000"/>
<rect x="732" y="192" width="3" height="30" fill="#ff4500"/>
<rect x="741" y="180" width="1" height="81" fill="#32cd32"/>
<rect x="739" y="190" width="5" height="60" fill="#32cd32"/>
<rect x="749" y="208" width="1" height="42" fill="#ff0000"/>
<rect x="747" y="229" width="5" height="21" fill="#ff0000"/>
<rect x="748" y="230" width="3" height="19" fill="#ff4500"/>
<rect x="757" y="218" width="1" height="23" fill="#ff0000"/>
<rect x="755" y="218" width="5" height="12" fill="#ff0000"/>
<rect x="756" y="219" width="3" height="10" fill="#ff4500"/>
<rect x="765" y="179" width="1" height="43" fill="#ff0000"/>
<rect x="763" y="196" width="5" height="25" fill="#ff0000"/>
<rect x="764" y="197" width="3" height="23" fill="#ff4500"/>
<rect x="773" y="154" width="1" height="46" fill="#ff0000"/>
<rect x="771" y="172" width="5" height="26" fill="#ff0000"/>
<rect x="772" y="173" width="3" height="24" fill="#ff4500"/>
<rect x="781" y="160" width="1" height="27" fill="#ff0000"/>
<rect x="779" y="165" width="5" height="8" fill="#ff0000"/>
<rect x="780" y="166" width="3" height="6" fill="#ff4500"/>
<rect x="789" y="146" width="1" height="25" fill="#000000"/>
<rect x="787" y="165" width="5" height="1" fill="#000000"/>
<rect x="797" y="147" width="1" height="30" fill="#32cd32"/>
<rect x="795" y="165" width="5" height="5" fill="#32cd32"/>
<rect x="805" y="165" width="1" height="13" fill="#32cd32"/>
<rect x="803" y="169" width="5" height="5" fill="#32cd32"/>
<rect x="813" y="123" width="1" height="61" fill="#ff0000"/>
<rect x="811" y="134" width="5" height="48" fill="#ff0000"/>
<rect x="812" y="135" width="3" height="46" fill="#ff4500"/>
<rect x="821" y="86" width="1" height="54" fill="#ff0000"/>
<rect x="819" y="105" width="5" height="30" fill="#ff0000"/>
<rect x="820" y="106" width="3" height="28" fill="#ff4500"/>
<rect x="829" y="101" width="1" height="32" fill="#ff0000"/>
<rect x="827" y="101" width="5" height="6" fill="#ff0000"/>
<rect x="828" y="102" width="3" height="4" fill="#ff4500"/>
<rect x="837" y="81" width="1" height="44" fill="#32cd32"/>
<rect x="835" y="101" width="5" height="5" fill="#32cd32"/>
<rect x="845" y="89" width="1" height="44" fill="#32cd32"/>
<rect x="843" y="105" width="5" height="4" fill="#32cd32"/>
<rect x="853" y="106" width="1" height="26" fill="#32cd32"/>
<rect x="851" y="108" width="5" height="20" fill="#32cd32"/>
<rect x="861" y="126" width="1" height="26" fill="#32cd32"/>
<rect x="859" y="132" width="5" height="4" fill="#32cd32"/>
<rect x="869" y="116" width="1" height="53" fill="#32cd32"/>
<rect x="867" y="135" width="5" height="22" fill="#32cd32"/>
<rect x="877" y="154" width="1" height="26" fill="#32cd32"/>
<rect x="875" y="156" width="5" height="22" fill="#32cd32"/>
<rect x="885" y="152" width="1" height="40" fill="#ff0000"/>
<rect x="883" y="177" width="5" height="2" fill="#ff0000"/>
<rect x="893" y="150" width="1" height="34" fill="#ff0000"/>
<rect x="891" y="175" width="5" height="3" fill="#ff0000"/>
<rect x="892" y="176" width="3" height="1" fill="#ff4500"/>
<rect x="901" y="171" width="1" height="15" fill="#ff0000"/>
<rect x="899" y="172" width="5" height="4" fill="#ff0000"/>
<rect x="900" y="173" width="3" height="2" fill="#ff4500"/>
<rect x="909" y="168" width="1" height="14" fill="#32cd32"/>
<rect x="907" y="171" width="5" height="8" fill="#32cd32"/>
</g>
<rect x="684" y="75" width="322" height="2" fill="#ff2020"/>
<rect x="677" y="148" width="317" height="2" fill="#98cb08"/>
<rect x="651" y="237" width="356" height="1" fill="#308ce8"/>
<path d="M8 38 L15 38 L11.5 42 Z" fill="#000"/>
<text x="20.4" y="43" font-size="9.8" fill="#000" textLength="63.6" lengthAdjust="spacingAndGlyphs" stroke="#000" stroke-width="0.12">USDCHF,Daily</text>
<text x="91.2" y="43" font-size="9.8" fill="#000" textLength="32.4" lengthAdjust="spacingAndGlyphs" stroke="#000" stroke-width="0.12">1.00016</text>
<text x="127.2" y="43" font-size="9.8" fill="#000" textLength="32.4" lengthAdjust="spacingAndGlyphs" stroke="#000" stroke-width="0.12">1.00046</text>
<text x="163.2" y="43" font-size="9.8" fill="#000" textLength="32.4" lengthAdjust="spacingAndGlyphs" stroke="#000" stroke-width="0.12">0.99914</text>
<text x="199.2" y="43" font-size="9.8" fill="#000" textLength="32.4" lengthAdjust="spacingAndGlyphs" stroke="#000" stroke-width="0.12">0.99943</text>
<rect x="1156" y="52" width="2" height="1" fill="#000000"/>
<text x="1161.2" y="55.9" font-size="9.8" fill="#000" textLength="32.6" lengthAdjust="spacingAndGlyphs" stroke="#000" stroke-width="0.12">1.01280</text>
<rect x="1156" y="85" width="2" height="1" fill="#000000"/>
<text x="1161.2" y="88.9" font-size="9.8" fill="#000" textLength="32.6" lengthAdjust="spacingAndGlyphs" stroke="#000" stroke-width="0.12">1.00930</text>
<rect x="1156" y="118" width="2" height="1" fill="#000000"/>
<text x="1161.2" y="121.8" font-size="9.8" fill="#000" textLength="32.6" lengthAdjust="spacingAndGlyphs" stroke="#000" stroke-width="0.12">1.00580</text>
<rect x="1156" y="151" width="2" height="1" fill="#000000"/>
<text x="1161.2" y="154.75" font-size="9.8" fill="#000" textLength="32.6" lengthAdjust="spacingAndGlyphs" stroke="#000" stroke-width="0.12">1.00230</text>
<rect x="1156" y="184" width="2" height="1" fill="#000000"/>
<text x="1161.2" y="187.7" font-size="9.8" fill="#000" textLength="32.6" lengthAdjust="spacingAndGlyphs" stroke="#000" stroke-width="0.12">0.99880</text>
<rect x="1156" y="217" width="2" height="1" fill="#000000"/>
<text x="1161.2" y="221.0" font-size="9.8" fill="#000" textLength="32.6" lengthAdjust="spacingAndGlyphs" stroke="#000" stroke-width="0.12">0.99530</text>
<rect x="1156" y="250" width="2" height="1" fill="#000000"/>
<text x="1161.2" y="253.9" font-size="9.8" fill="#000" textLength="32.6" lengthAdjust="spacingAndGlyphs" stroke="#000" stroke-width="0.12">0.99170</text>
<rect x="1156" y="283" width="2" height="1" fill="#000000"/>
<text x="1161.2" y="286.8" font-size="9.8" fill="#000" textLength="32.6" lengthAdjust="spacingAndGlyphs" stroke="#000" stroke-width="0.12">0.98820</text>
<rect x="1156" y="316" width="2" height="1" fill="#000000"/>
<text x="1161.2" y="319.8" font-size="9.8" fill="#000" textLength="32.6" lengthAdjust="spacingAndGlyphs" stroke="#000" stroke-width="0.12">0.98470</text>
<rect x="1156" y="349" width="2" height="1" fill="#000000"/>
<text x="1161.2" y="353.1" font-size="9.8" fill="#000" textLength="32.6" lengthAdjust="spacingAndGlyphs" stroke="#000" stroke-width="0.12">0.98120</text>
<rect x="1156" y="382" width="2" height="1" fill="#000000"/>
<text x="1161.2" y="385.9" font-size="9.8" fill="#000" textLength="32.6" lengthAdjust="spacingAndGlyphs" stroke="#000" stroke-width="0.12">0.97770</text>
<rect x="1156" y="415" width="2" height="1" fill="#000000"/>
<text x="1161.2" y="419.2" font-size="9.8" fill="#000" textLength="32.6" lengthAdjust="spacingAndGlyphs" stroke="#000" stroke-width="0.12">0.97420</text>
<rect x="1156" y="448" width="2" height="1" fill="#000000"/>
<text x="1161.2" y="451.8" font-size="9.8" fill="#000" textLength="32.6" lengthAdjust="spacingAndGlyphs" stroke="#000" stroke-width="0.12">0.97070</text>
<rect x="1157" y="173" width="41" height="11" fill="#000000"/>
<text x="1161.2" y="182.2" font-size="9.8" fill="#fff" textLength="32.6" lengthAdjust="spacingAndGlyphs" stroke="#fff" stroke-width="0.12">0.99943</text>
<text x="1159" y="464" font-size="9.8" fill="#000" textLength="37.5" lengthAdjust="spacingAndGlyphs" stroke="#000" stroke-width="0.12">0.005802</text>
<rect x="1156" y="490" width="1" height="1" fill="#000000"/>
<text x="1159" y="494.2" font-size="9.8" fill="#000" textLength="17.7" lengthAdjust="spacingAndGlyphs" stroke="#000" stroke-width="0.12">0.00</text>
<text x="1159" y="512.1" font-size="9.8" fill="#000" textLength="41.5" lengthAdjust="spacingAndGlyphs" stroke="#000" stroke-width="0.12">-0.003945</text>
<text x="1159" y="528.4" font-size="9.8" fill="#000" textLength="15.2" lengthAdjust="spacingAndGlyphs" stroke="#000" stroke-width="0.12">100</text>
<text x="1159" y="546.5" font-size="9.8" fill="#000" textLength="9.6" lengthAdjust="spacingAndGlyphs" stroke="#000" stroke-width="0.12">70</text>
<text x="1159" y="576" font-size="9.8" fill="#000" textLength="9.6" lengthAdjust="spacingAndGlyphs" stroke="#000" stroke-width="0.12">30</text>
<text x="1159" y="593" font-size="9.8" fill="#000" textLength="4.7" lengthAdjust="spacingAndGlyphs" stroke="#000" stroke-width="0.12">0</text>
<rect x="1156" y="542" width="1" height="1" fill="#000000"/>
<rect x="1156" y="572" width="1" height="1" fill="#000000"/>
<g shape-rendering="crispEdges">
<rect x="5" y="463" width="1" height="28" fill="#c0c0c0"/>
<rect x="13" y="458" width="1" height="33" fill="#c0c0c0"/>
<rect x="21" y="458" width="1" height="33" fill="#c0c0c0"/>
<rect x="29" y="458" width="1" height="33" fill="#c0c0c0"/>
<rect x="37" y="458" width="1" height="33" fill="#c0c0c0"/>
<rect x="45" y="458" width="1" height="33" fill="#c0c0c0"/>
<rect x="53" y="458" width="1" height="33" fill="#c0c0c0"/>
<rect x="61" y="458" width="1" height="33" fill="#c0c0c0"/>
<rect x="69" y="458" width="1" height="33" fill="#c0c0c0"/>
<rect x="77" y="458" width="1" height="33" fill="#c0c0c0"/>
<rect x="85" y="458" width="1" height="33" fill="#c0c0c0"/>
<rect x="93" y="458" width="1" height="33" fill="#c0c0c0"/>
<rect x="101" y="458" width="1" height="33" fill="#c0c0c0"/>
<rect x="109" y="458" width="1" height="33" fill="#c0c0c0"/>
<rect x="117" y="459" width="1" height="32" fill="#c0c0c0"/>
<rect x="125" y="459" width="1" height="32" fill="#c0c0c0"/>
<rect x="133" y="460" width="1" height="31" fill="#c0c0c0"/>
<rect x="141" y="461" width="1" height="30" fill="#c0c0c0"/>
<rect x="149" y="463" width="1" height="28" fill="#c0c0c0"/>
<rect x="157" y="464" width="1" height="27" fill="#c0c0c0"/>
<rect x="165" y="465" width="1" height="26" fill="#c0c0c0"/>
<rect x="173" y="466" width="1" height="25" fill="#c0c0c0"/>
<rect x="181" y="466" width="1" height="25" fill="#c0c0c0"/>
<rect x="189" y="464" width="1" height="27" fill="#c0c0c0"/>
<rect x="197" y="464" width="1" height="27" fill="#c0c0c0"/>
<rect x="205" y="465" width="1" height="26" fill="#c0c0c0"/>
<rect x="213" y="467" width="1" height="24" fill="#c0c0c0"/>
<rect x="221" y="469" width="1" height="22" fill="#c0c0c0"/>
<rect x="229" y="473" width="1" height="18" fill="#c0c0c0"/>
<rect x="237" y="479" width="1" height="12" fill="#c0c0c0"/>
<rect x="245" y="485" width="1" height="6" fill="#c0c0c0"/>
<rect x="253" y="488" width="1" height="3" fill="#c0c0c0"/>
<rect x="269" y="490" width="1" height="1" fill="#c0c0c0"/>
<rect x="277" y="490" width="1" height="2" fill="#c0c0c0"/>
<rect x="285" y="490" width="1" height="1" fill="#c0c0c0"/>
<rect x="293" y="490" width="1" height="1" fill="#c0c0c0"/>
<rect x="301" y="490" width="1" height="1" fill="#c0c0c0"/>
<rect x="309" y="490" width="1" height="2" fill="#c0c0c0"/>
<rect x="317" y="490" width="1" height="1" fill="#c0c0c0"/>
<rect x="325" y="490" width="1" height="1" fill="#c0c0c0"/>
<rect x="333" y="490" width="1" height="1" fill="#c0c0c0"/>
<rect x="341" y="490" width="1" height="1" fill="#c0c0c0"/>
<rect x="349" y="490" width="1" height="1" fill="#c0c0c0"/>
<rect x="357" y="490" width="1" height="4" fill="#c0c0c0"/>
<rect x="365" y="490" width="1" height="7" fill="#c0c0c0"/>
<rect x="373" y="490" width="1" height="10" fill="#c0c0c0"/>
<rect x="381" y="490" width="1" height="13" fill="#c0c0c0"/>
<rect x="389" y="490" width="1" height="13" fill="#c0c0c0"/>
<rect x="397" y="490" width="1" height="12" fill="#c0c0c0"/>
<rect x="405" y="490" width="1" height="11" fill="#c0c0c0"/>
<rect x="413" y="490" width="1" height="9" fill="#c0c0c0"/>
<rect x="421" y="490" width="1" height="7" fill="#c0c0c0"/>
<rect x="429" y="490" width="1" height="7" fill="#c0c0c0"/>
<rect x="437" y="490" width="1" height="7" fill="#c0c0c0"/>
<rect x="445" y="490" width="1" height="7" fill="#c0c0c0"/>
<rect x="453" y="490" width="1" height="8" fill="#c0c0c0"/>
<rect x="461" y="490" width="1" height="9" fill="#c0c0c0"/>
<rect x="469" y="490" width="1" height="7" fill="#c0c0c0"/>
<rect x="477" y="490" width="1" height="8" fill="#c0c0c0"/>
<rect x="485" y="490" width="1" height="11" fill="#c0c0c0"/>
<rect x="493" y="490" width="1" height="12" fill="#c0c0c0"/>
<rect x="501" y="490" width="1" height="11" fill="#c0c0c0"/>
<rect x="509" y="490" width="1" height="14" fill="#c0c0c0"/>
<rect x="517" y="490" width="1" height="16" fill="#c0c0c0"/>
<rect x="525" y="490" width="1" height="16" fill="#c0c0c0"/>
<rect x="533" y="490" width="1" height="19" fill="#c0c0c0"/>
<rect x="541" y="490" width="1" height="18" fill="#c0c0c0"/>
<rect x="549" y="490" width="1" height="16" fill="#c0c0c0"/>
<rect x="557" y="490" width="1" height="16" fill="#c0c0c0"/>
<rect x="565" y="490" width="1" height="16" fill="#c0c0c0"/>
<rect x="573" y="490" width="1" height="18" fill="#c0c0c0"/>
<rect x="581" y="490" width="1" height="19" fill="#c0c0c0"/>
<rect x="589" y="490" width="1" height="21" fill="#c0c0c0"/>
<rect x="597" y="490" width="1" height="22" fill="#c0c0c0"/>
<rect x="605" y="490" width="1" height="21" fill="#c0c0c0"/>
<rect x="613" y="490" width="1" height="20" fill="#c0c0c0"/>
<rect x="621" y="490" width="1" height="21" fill="#c0c0c0"/>
<rect x="629" y="490" width="1" height="16" fill="#c0c0c0"/>
<rect x="637" y="490" width="1" height="11" fill="#c0c0c0"/>
<rect x="645" y="490" width="1" height="6" fill="#c0c0c0"/>
<rect x="653" y="490" width="1" height="1" fill="#c0c0c0"/>
<rect x="661" y="488" width="1" height="3" fill="#c0c0c0"/>
<rect x="669" y="484" width="1" height="7" fill="#c0c0c0"/>
<rect x="677" y="481" width="1" height="10" fill="#c0c0c0"/>
<rect x="685" y="480" width="1" height="11" fill="#c0c0c0"/>
<rect x="693" y="479" width="1" height="12" fill="#c0c0c0"/>
<rect x="701" y="480" width="1" height="11" fill="#c0c0c0"/>
<rect x="709" y="480" width="1" height="11" fill="#c0c0c0"/>
<rect x="717" y="481" width="1" height="10" fill="#c0c0c0"/>
<rect x="725" y="481" width="1" height="10" fill="#c0c0c0"/>
<rect x="733" y="479" width="1" height="12" fill="#c0c0c0"/>
<rect x="741" y="480" width="1" height="11" fill="#c0c0c0"/>
<rect x="749" y="480" width="1" height="11" fill="#c0c0c0"/>
<rect x="757" y="480" width="1" height="11" fill="#c0c0c0"/>
<rect x="765" y="479" width="1" height="12" fill="#c0c0c0"/>
<rect x="773" y="477" width="1" height="14" fill="#c0c0c0"/>
<rect x="781" y="476" width="1" height="15" fill="#c0c0c0"/>
<rect x="789" y="475" width="1" height="16" fill="#c0c0c0"/>
<rect x="797" y="475" width="1" height="16" fill="#c0c0c0"/>
<rect x="805" y="474" width="1" height="17" fill="#c0c0c0"/>
<rect x="813" y="473" width="1" height="18" fill="#c0c0c0"/>
<rect x="821" y="470" width="1" height="21" fill="#c0c0c0"/>
<rect x="829" y="468" width="1" height="23" fill="#c0c0c0"/>
<rect x="837" y="466" width="1" height="25" fill="#c0c0c0"/>
<rect x="845" y="466" width="1" height="25" fill="#c0c0c0"/>
<rect x="853" y="467" width="1" height="24" fill="#c0c0c0"/>
<rect x="861" y="468" width="1" height="23" fill="#c0c0c0"/>
<rect x="869" y="470" width="1" height="21" fill="#c0c0c0"/>
<rect x="877" y="473" width="1" height="18" fill="#c0c0c0"/>
<rect x="885" y="477" width="1" height="14" fill="#c0c0c0"/>
<rect x="893" y="479" width="1" height="12" fill="#c0c0c0"/>
<rect x="901" y="481" width="1" height="10" fill="#c0c0c0"/>
<rect x="909" y="482" width="1" height="9" fill="#c0c0c0"/>
</g>
<path d="M245 470h2v1h-2zM845 470h3v1h-3zM893 470h3v1h-3zM737 479h3v1h-3zM743 479h3v1h-3zM749 479h3v1h-3zM779 479h3v1h-3zM221 466h3v1h-3zM227 466h3v1h-3zM719 482h2v1h-2zM395 498h3v1h-3zM467 498h3v1h-3zM473 498h3v1h-3zM479 498h3v1h-3zM485 498h3v1h-3zM671 498h2v1h-2zM263 476h2v1h-2zM809 476h3v1h-3zM815 476h2v1h-2zM5 459h3v1h-3zM11 459h3v1h-3zM17 459h3v1h-3zM23 459h3v1h-3zM29 459h3v1h-3zM35 459h3v1h-3zM41 459h3v1h-3zM47 459h3v1h-3zM53 459h3v1h-3zM59 459h3v1h-3zM65 459h3v1h-3zM71 459h3v1h-3zM77 459h3v1h-3zM83 459h3v1h-3zM89 459h3v1h-3zM95 459h3v1h-3zM101 459h3v1h-3zM107 459h3v1h-3zM113 459h3v1h-3zM119 459h3v1h-3zM125 459h3v1h-3zM131 459h3v1h-3zM137 459h3v1h-3zM143 459h3v1h-3zM149 459h3v1h-3zM155 459h3v1h-3zM161 459h3v1h-3zM167 459h2v1h-2zM401 499h3v1h-3zM407 499h2v1h-2zM461 499h3v1h-3zM491 499h3v1h-3zM365 493h3v1h-3zM293 486h2v1h-2zM701 486h2v1h-2zM413 500h3v1h-3zM419 500h3v1h-3zM425 500h3v1h-3zM431 500h3v1h-3zM437 500h3v1h-3zM443 500h3v1h-3zM449 500h3v1h-3zM455 500h2v1h-2zM497 500h3v1h-3zM503 500h3v1h-3zM509 500h3v1h-3zM665 500h3v1h-3zM557 506h3v1h-3zM563 506h3v1h-3zM389 496h2v1h-2zM851 469h3v1h-3zM857 469h3v1h-3zM863 469h2v1h-2zM881 469h3v1h-3zM887 469h2v1h-2zM833 472h2v1h-2zM905 472h3v1h-3zM569 507h3v1h-3zM575 507h3v1h-3zM581 507h3v1h-3zM641 507h3v1h-3zM647 507h2v1h-2zM515 501h3v1h-3zM617 509h3v1h-3zM623 509h3v1h-3zM629 509h3v1h-3zM839 471h2v1h-2zM899 471h3v1h-3zM209 465h3v1h-3zM215 465h2v1h-2zM317 491h3v1h-3zM323 491h3v1h-3zM329 491h3v1h-3zM335 491h3v1h-3zM341 491h3v1h-3zM347 491h3v1h-3zM689 491h2v1h-2zM821 475h2v1h-2zM173 460h2v1h-2zM179 462h3v1h-3zM185 462h3v1h-3zM191 462h2v1h-2zM300 489h2v1h-2zM305 490h3v1h-3zM311 490h2v1h-2zM521 502h3v1h-3zM527 502h2v1h-2zM660 502h2v1h-2zM252 473h2v1h-2zM827 473h3v1h-3zM353 492h3v1h-3zM359 492h2v1h-2zM684 492h2v1h-2zM269 478h2v1h-2zM785 478h3v1h-3zM791 478h3v1h-3zM797 478h3v1h-3zM539 505h3v1h-3zM545 505h3v1h-3zM551 505h2v1h-2zM654 505h2v1h-2zM233 467h3v1h-3zM197 463h3v1h-3zM587 508h3v1h-3zM593 508h3v1h-3zM599 508h3v1h-3zM605 508h3v1h-3zM611 508h3v1h-3zM635 508h3v1h-3zM731 480h3v1h-3zM755 480h3v1h-3zM761 480h3v1h-3zM767 480h3v1h-3zM773 480h3v1h-3zM377 495h3v1h-3zM383 495h2v1h-2zM678 495h2v1h-2zM239 468h2v1h-2zM869 468h3v1h-3zM875 468h3v1h-3zM281 483h3v1h-3zM713 483h2v1h-2zM707 484h3v1h-3zM276 481h2v1h-2zM725 481h3v1h-3zM371 494h3v1h-3zM203 464h3v1h-3zM803 477h3v1h-3zM257 474h2v1h-2zM533 503h2v1h-2zM696 488h2v1h-2zM287 485h3v1h-3zM841 470h1v1h-1zM889 470h1v1h-1zM271 479h1v1h-1zM217 466h1v1h-1zM715 482h1v1h-1zM457 499h1v1h-1zM361 493h1v1h-1zM683 493h1v1h-1zM409 500h1v1h-1zM553 506h1v1h-1zM649 506h1v1h-1zM653 506h1v1h-1zM385 496h1v1h-1zM677 496h1v1h-1zM241 469h1v1h-1zM251 472h1v1h-1zM247 471h1v1h-1zM835 471h1v1h-1zM313 491h1v1h-1zM259 475h1v1h-1zM817 475h1v1h-1zM169 460h1v1h-1zM695 489h1v1h-1zM691 490h1v1h-1zM535 504h1v1h-1zM193 463h1v1h-1zM275 480h1v1h-1zM865 468h1v1h-1zM175 461h1v1h-1zM721 481h1v1h-1zM265 477h1v1h-1zM823 474h1v1h-1zM529 503h1v1h-1zM659 503h1v1h-1zM299 488h1v1h-1zM703 485h1v1h-1zM391 497h1v1h-1zM673 497h1v1h-1zM295 487h1v1h-1z" fill="#ff0000" shape-rendering="crispEdges"/>
<text x="9.6" y="466" font-size="9.8" fill="#000" textLength="147.4" lengthAdjust="spacingAndGlyphs" stroke="#000" stroke-width="0.12">MACD(12,26,9) 0.001450 0.002838</text>
<line x1="5" y1="542.5" x2="1155" y2="542.5" stroke="#c0c0c0" stroke-width="1" stroke-dasharray="3 3" shape-rendering="crispEdges"/>
<line x1="5" y1="572.5" x2="1155" y2="572.5" stroke="#c0c0c0" stroke-width="1" stroke-dasharray="3 3" shape-rendering="crispEdges"/>
<path d="M264 561h2v1h-2zM403 561h3v1h-3zM435 561h14v1h-14zM454 561h2v1h-2zM473 561h2v1h-2zM554 561h2v1h-2zM561 561h5v1h-5zM607 561h4v1h-4zM615 561h2v1h-2zM5 550h2v1h-2zM164 550h3v1h-3zM644 550h5v1h-5zM657 550h6v1h-6zM683 550h6v1h-6zM729 550h3v1h-3zM767 550h2v1h-2zM862 550h2v1h-2zM251 563h11v1h-11zM389 563h10v1h-10zM458 563h2v1h-2zM491 563h2v1h-2zM502 563h2v1h-2zM602 563h2v1h-2zM620 563h2v1h-2zM19 545h4v1h-4zM46 545h2v1h-2zM58 545h2v1h-2zM73 545h2v1h-2zM94 545h2v1h-2zM116 545h13v1h-13zM144 545h2v1h-2zM185 545h3v1h-3zM199 545h4v1h-4zM812 545h3v1h-3zM848 545h2v1h-2zM223 556h2v1h-2zM295 556h4v1h-4zM321 556h6v1h-6zM413 556h2v1h-2zM715 556h3v1h-3zM743 556h2v1h-2zM874 556h2v1h-2zM889 556h16v1h-16zM27 543h14v1h-14zM63 543h4v1h-4zM70 543h2v1h-2zM98 543h2v1h-2zM112 543h2v1h-2zM137 543h5v1h-5zM817 543h3v1h-3zM833 543h13v1h-13zM369 568h3v1h-3zM530 568h2v1h-2zM584 568h2v1h-2zM592 568h2v1h-2zM357 566h10v1h-10zM481 566h3v1h-3zM486 566h2v1h-2zM507 566h2v1h-2zM511 566h4v1h-4zM526 566h2v1h-2zM573 566h9v1h-9zM596 566h2v1h-2zM233 562h2v1h-2zM262 562h2v1h-2zM399 562h4v1h-4zM456 562h2v1h-2zM493 562h9v1h-9zM556 562h5v1h-5zM566 562h2v1h-2zM604 562h3v1h-3zM617 562h3v1h-3zM622 562h2v1h-2zM9 548h3v1h-3zM52 548h2v1h-2zM81 548h6v1h-6zM169 548h3v1h-3zM209 548h3v1h-3zM665 548h3v1h-3zM673 548h6v1h-6zM772 548h29v1h-29zM806 548h2v1h-2zM855 548h4v1h-4zM161 551h3v1h-3zM215 551h2v1h-2zM641 551h3v1h-3zM689 551h6v1h-6zM727 551h2v1h-2zM763 551h4v1h-4zM864 551h2v1h-2zM228 558h2v1h-2zM279 558h4v1h-4zM314 558h2v1h-2zM331 558h6v1h-6zM345 558h5v1h-5zM409 558h2v1h-2zM427 558h2v1h-2zM547 558h3v1h-3zM266 560h2v1h-2zM307 560h2v1h-2zM310 560h2v1h-2zM406 560h2v1h-2zM431 560h4v1h-4zM449 560h5v1h-5zM465 560h2v1h-2zM541 560h2v1h-2zM552 560h2v1h-2zM611 560h4v1h-4zM625 560h2v1h-2zM268 559h11v1h-11zM312 559h2v1h-2zM337 559h8v1h-8zM429 559h2v1h-2zM543 559h4v1h-4zM550 559h2v1h-2zM627 559h2v1h-2zM7 549h2v1h-2zM151 549h2v1h-2zM167 549h2v1h-2zM212 549h2v1h-2zM649 549h8v1h-8zM663 549h2v1h-2zM679 549h4v1h-4zM732 549h2v1h-2zM769 549h3v1h-3zM801 549h5v1h-5zM859 549h3v1h-3zM372 569h10v1h-10zM532 569h2v1h-2zM586 569h2v1h-2zM590 569h2v1h-2zM15 546h4v1h-4zM48 546h2v1h-2zM56 546h2v1h-2zM75 546h2v1h-2zM91 546h3v1h-3zM146 546h2v1h-2zM183 546h2v1h-2zM203 546h4v1h-4zM810 546h2v1h-2zM850 546h2v1h-2zM237 565h10v1h-10zM479 565h2v1h-2zM505 565h2v1h-2zM515 565h11v1h-11zM571 565h2v1h-2zM598 565h2v1h-2zM157 553h2v1h-2zM637 553h2v1h-2zM697 553h3v1h-3zM722 553h2v1h-2zM753 553h6v1h-6zM868 553h2v1h-2zM23 544h4v1h-4zM41 544h5v1h-5zM60 544h3v1h-3zM96 544h2v1h-2zM114 544h2v1h-2zM129 544h8v1h-8zM142 544h2v1h-2zM188 544h11v1h-11zM815 544h2v1h-2zM846 544h2v1h-2zM367 567h2v1h-2zM383 567h2v1h-2zM484 567h2v1h-2zM509 567h2v1h-2zM528 567h2v1h-2zM582 567h2v1h-2zM594 567h2v1h-2zM588 570h2v1h-2zM225 557h3v1h-3zM283 557h12v1h-12zM303 557h2v1h-2zM316 557h5v1h-5zM327 557h4v1h-4zM411 557h2v1h-2zM425 557h2v1h-2zM630 557h2v1h-2zM741 557h2v1h-2zM876 557h13v1h-13zM905 557h4v1h-4zM155 552h2v1h-2zM159 552h2v1h-2zM639 552h2v1h-2zM695 552h2v1h-2zM724 552h3v1h-3zM759 552h4v1h-4zM866 552h2v1h-2zM219 554h2v1h-2zM419 554h3v1h-3zM635 554h2v1h-2zM700 554h11v1h-11zM720 554h2v1h-2zM748 554h5v1h-5zM870 554h2v1h-2zM67 542h3v1h-3zM100 542h5v1h-5zM110 542h2v1h-2zM820 542h13v1h-13zM247 564h4v1h-4zM387 564h2v1h-2zM460 564h2v1h-2zM477 564h2v1h-2zM489 564h2v1h-2zM569 564h2v1h-2zM600 564h2v1h-2zM221 555h2v1h-2zM299 555h3v1h-3zM415 555h4v1h-4zM422 555h2v1h-2zM633 555h2v1h-2zM711 555h4v1h-4zM718 555h2v1h-2zM745 555h3v1h-3zM872 555h2v1h-2zM12 547h3v1h-3zM50 547h2v1h-2zM54 547h2v1h-2zM77 547h4v1h-4zM87 547h4v1h-4zM148 547h2v1h-2zM172 547h11v1h-11zM207 547h2v1h-2zM668 547h5v1h-5zM808 547h2v1h-2zM852 547h3v1h-3zM105 541h5v1h-5zM232 561h1v1h-1zM309 561h1v1h-1zM352 561h1v1h-1zM464 561h1v1h-1zM540 561h1v1h-1zM624 561h1v1h-1zM153 550h1v1h-1zM214 550h1v1h-1zM734 550h1v1h-1zM235 563h1v1h-1zM354 563h1v1h-1zM462 563h1v1h-1zM476 563h1v1h-1zM538 563h1v1h-1zM568 563h1v1h-1zM302 556h1v1h-1zM424 556h1v1h-1zM632 556h1v1h-1zM740 556h1v1h-1zM382 568h1v1h-1zM534 568h1v1h-1zM385 566h1v1h-1zM536 566h1v1h-1zM353 562h1v1h-1zM463 562h1v1h-1zM475 562h1v1h-1zM539 562h1v1h-1zM150 548h1v1h-1zM154 551h1v1h-1zM735 551h1v1h-1zM305 558h1v1h-1zM468 558h1v1h-1zM470 558h1v1h-1zM629 558h1v1h-1zM231 560h1v1h-1zM351 560h1v1h-1zM472 560h1v1h-1zM230 559h1v1h-1zM306 559h1v1h-1zM350 559h1v1h-1zM408 559h1v1h-1zM467 559h1v1h-1zM471 559h1v1h-1zM356 565h1v1h-1zM386 565h1v1h-1zM488 565h1v1h-1zM537 564h1v2h-1zM218 553h1v1h-1zM737 553h1v1h-1zM72 544h1v1h-1zM535 567h1v1h-1zM469 557h1v1h-1zM217 552h1v1h-1zM736 552h1v1h-1zM738 554h1v1h-1zM236 564h1v1h-1zM355 564h1v1h-1zM504 564h1v1h-1zM739 555h1v1h-1z" fill="#1e90ff" shape-rendering="crispEdges"/>
<text x="9.2" y="530.2" font-size="9.8" fill="#000" textLength="67.6" lengthAdjust="spacingAndGlyphs" stroke="#000" stroke-width="0.12">RSI(14) 49.7290</text>
<rect x="5" y="597" width="1" height="3" fill="#000000"/>
<text x="4.5" y="608.8" font-size="9.8" fill="#000" textLength="50.3" lengthAdjust="spacingAndGlyphs" stroke="#000" stroke-width="0.12">16 Oct 2018</text>
<rect x="69" y="597" width="1" height="3" fill="#000000"/>
<text x="68.5" y="608.8" font-size="9.8" fill="#000" textLength="49.8" lengthAdjust="spacingAndGlyphs" stroke="#000" stroke-width="0.12">25 Oct 2018</text>
<rect x="133" y="597" width="1" height="3" fill="#000000"/>
<text x="132.5" y="608.8" font-size="9.8" fill="#000" textLength="47.6" lengthAdjust="spacingAndGlyphs" stroke="#000" stroke-width="0.12">3 Nov 2018</text>
<rect x="197" y="597" width="1" height="3" fill="#000000"/>
<text x="196.5" y="608.8" font-size="9.8" fill="#000" textLength="52" lengthAdjust="spacingAndGlyphs" stroke="#000" stroke-width="0.12">13 Nov 2018</text>
<rect x="261" y="597" width="1" height="3" fill="#000000"/>
<text x="260.5" y="608.8" font-size="9.8" fill="#000" textLength="53.4" lengthAdjust="spacingAndGlyphs" stroke="#000" stroke-width="0.12">22 Nov 2018</text>
<rect x="325" y="597" width="1" height="3" fill="#000000"/>
<text x="324.5" y="608.8" font-size="9.8" fill="#000" textLength="45.5" lengthAdjust="spacingAndGlyphs" stroke="#000" stroke-width="0.12">1 Dec 2018</text>
<rect x="389" y="597" width="1" height="3" fill="#000000"/>
<text x="388.5" y="608.8" font-size="9.8" fill="#000" textLength="50.3" lengthAdjust="spacingAndGlyphs" stroke="#000" stroke-width="0.12">11 Dec 2018</text>
<rect x="453" y="597" width="1" height="3" fill="#000000"/>
<text x="452.5" y="608.8" font-size="9.8" fill="#000" textLength="51.4" lengthAdjust="spacingAndGlyphs" stroke="#000" stroke-width="0.12">20 Dec 2018</text>
<rect x="517" y="597" width="1" height="3" fill="#000000"/>
<text x="516.5" y="608.8" font-size="9.8" fill="#000" textLength="51" lengthAdjust="spacingAndGlyphs" stroke="#000" stroke-width="0.12">29 Dec 2018</text>
<rect x="581" y="597" width="1" height="3" fill="#000000"/>
<text x="580.5" y="608.8" font-size="9.8" fill="#000" textLength="44.4" lengthAdjust="spacingAndGlyphs" stroke="#000" stroke-width="0.12">8 Jan 2019</text>
<rect x="645" y="597" width="1" height="3" fill="#000000"/>
<text x="644.5" y="608.8" font-size="9.8" fill="#000" textLength="49" lengthAdjust="spacingAndGlyphs" stroke="#000" stroke-width="0.12">17 Jan 2019</text>
<rect x="709" y="597" width="1" height="3" fill="#000000"/>
<text x="708.5" y="608.8" font-size="9.8" fill="#000" textLength="49.4" lengthAdjust="spacingAndGlyphs" stroke="#000" stroke-width="0.12">26 Jan 2019</text>
<rect x="773" y="597" width="1" height="3" fill="#000000"/>
<text x="772.5" y="608.8" font-size="9.8" fill="#000" textLength="46.2" lengthAdjust="spacingAndGlyphs" stroke="#000" stroke-width="0.12">5 Feb 2019</text>
<rect x="837" y="597" width="1" height="3" fill="#000000"/>
<text x="836.5" y="608.8" font-size="9.8" fill="#000" textLength="50.4" lengthAdjust="spacingAndGlyphs" stroke="#000" stroke-width="0.12">14 Feb 2019</text>
<rect x="901" y="597" width="1" height="3" fill="#000000"/>
<text x="900.5" y="608.8" font-size="9.8" fill="#000" textLength="51.4" lengthAdjust="spacingAndGlyphs" stroke="#000" stroke-width="0.12">23 Feb 2019</text>
<rect x="0" y="618" width="1199" height="1" fill="#e3e3e3"/>
<rect x="0" y="619" width="1199" height="1" fill="#000000"/>
<rect x="0" y="620" width="1199" height="19" fill="#f0f0f0"/>
<rect x="0" y="639" width="1199" height="3" fill="#fcfcfc"/>
<rect x="0" y="642" width="1199" height="1" fill="#f0f0f0"/>
<rect x="0" y="643" width="1199" height="1" fill="#c8c8c8"/>
<rect x="0" y="644" width="1199" height="1" fill="#f0f0f0"/>
<rect x="0" y="620" width="2" height="19" fill="#a6a6a6"/>
<rect x="214" y="619" width="100" height="19" fill="#000"/>
<rect x="215" y="619" width="98" height="18" fill="#fff"/>
<text x="18.5" y="633.7" font-size="12" fill="#6e6e6e" textLength="79" lengthAdjust="spacingAndGlyphs">EURUSD,Daily</text>
<text x="121.4" y="633.7" font-size="12" fill="#6e6e6e" textLength="81" lengthAdjust="spacingAndGlyphs">AUDUSD,Daily</text>
<text x="325.6" y="633.7" font-size="12" fill="#6e6e6e" textLength="80.4" lengthAdjust="spacingAndGlyphs">USDCAD,Daily</text>
<text x="428.4" y="633.7" font-size="12" fill="#6e6e6e" textLength="81.6" lengthAdjust="spacingAndGlyphs">USDCNH,Daily</text>
<text x="533.4" y="633.7" font-size="12" fill="#6e6e6e" textLength="88.6" lengthAdjust="spacingAndGlyphs">USDJPY,Weekly</text>
<text x="645" y="633.7" font-size="12" fill="#6e6e6e" textLength="68.6" lengthAdjust="spacingAndGlyphs">XAUUSD,H4</text>
<text x="738.4" y="633.7" font-size="12" fill="#6e6e6e" textLength="79.2" lengthAdjust="spacingAndGlyphs">GBPUSD,Daily</text>
<text x="842" y="633.7" font-size="12" fill="#6e6e6e" textLength="63.4" lengthAdjust="spacingAndGlyphs">SP500,M15</text>
<text x="930.4" y="633.7" font-size="12" fill="#6e6e6e" textLength="79" lengthAdjust="spacingAndGlyphs">GBPUSD,Daily</text>
<text x="1032.4" y="633.7" font-size="12" fill="#6e6e6e" textLength="46.2" lengthAdjust="spacingAndGlyphs">DJ30,H4</text>
<text x="1100.5" y="633.7" font-size="12" fill="#6e6e6e" textLength="63" lengthAdjust="spacingAndGlyphs">TECH100,H</text>
<text x="224.4" y="633.7" font-size="12" fill="#000000" textLength="78" lengthAdjust="spacingAndGlyphs">USDCHF,Daily</text>
<rect x="110" y="622" width="1" height="14" fill="#505050"/>
<rect x="418" y="622" width="1" height="14" fill="#505050"/>
<rect x="522" y="622" width="1" height="14" fill="#505050"/>
<rect x="634" y="622" width="1" height="14" fill="#505050"/>
<rect x="726" y="622" width="1" height="14" fill="#505050"/>
<rect x="830" y="622" width="1" height="14" fill="#505050"/>
<rect x="918" y="622" width="1" height="14" fill="#505050"/>
<rect x="1022" y="622" width="1" height="14" fill="#505050"/>
<rect x="1090" y="622" width="1" height="14" fill="#505050"/>
<path d="M1174 625 L1174 631 L1170.5 628 Z" fill="#a0a0a0"/>
<path d="M1190 625 L1190 631 L1193.5 628 Z" fill="#000"/>
</svg>
</body></html>
